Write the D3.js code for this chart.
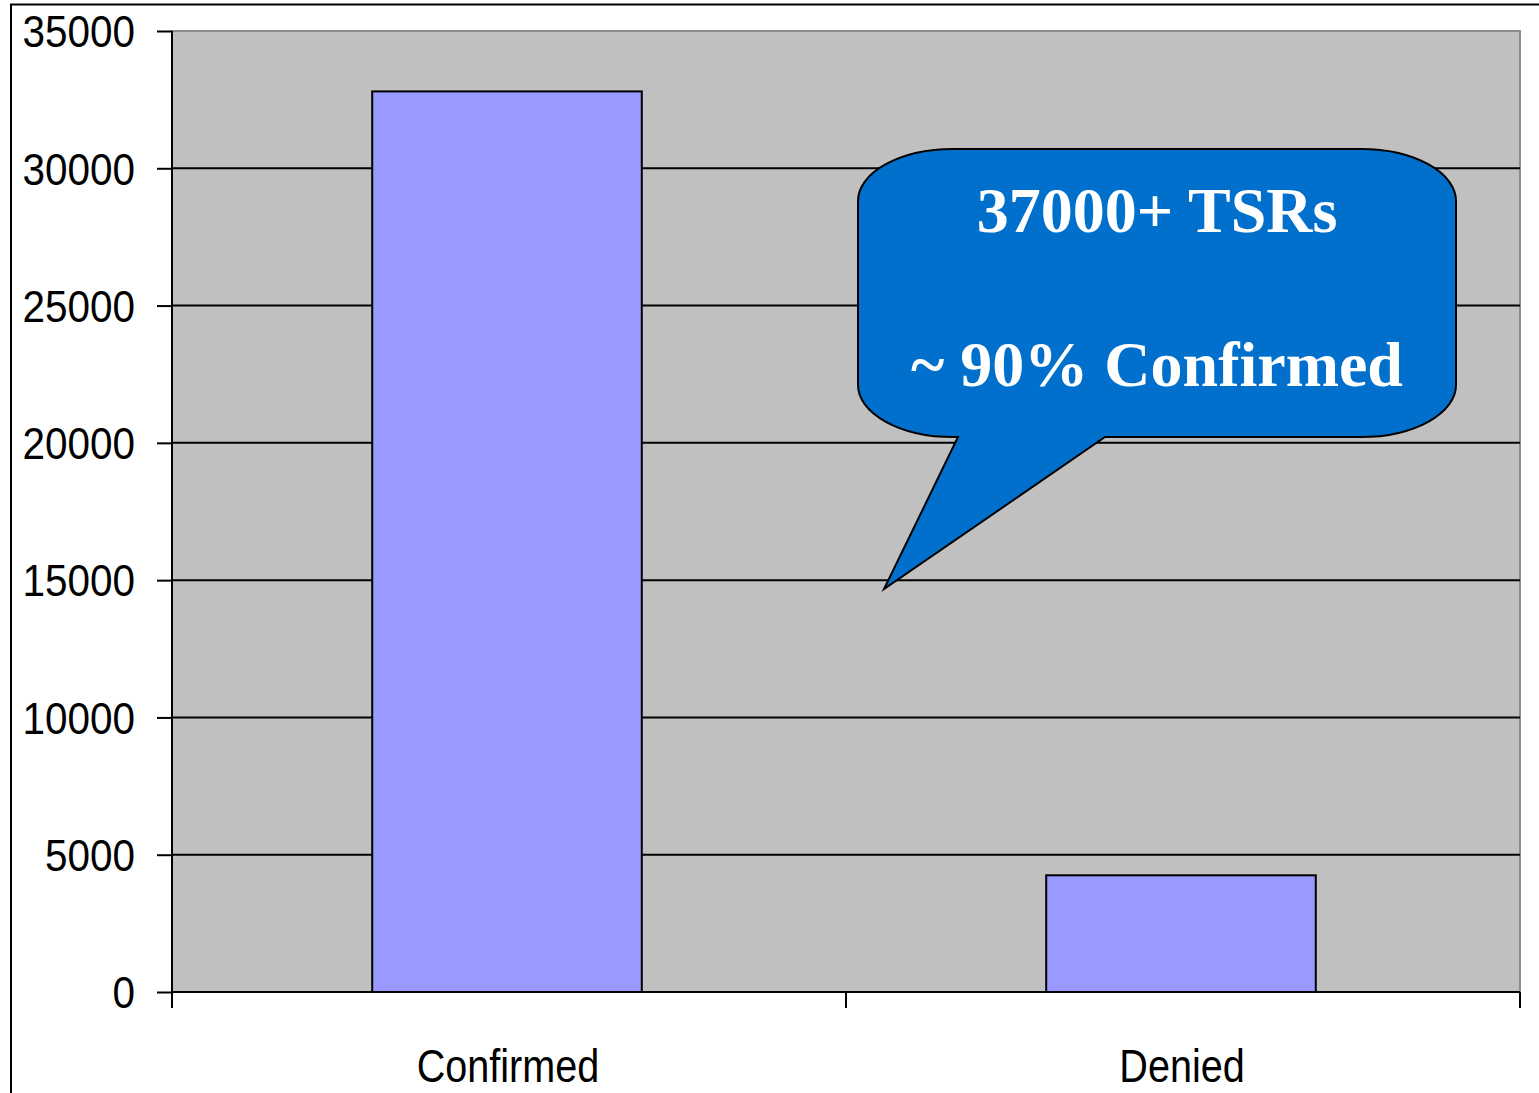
<!DOCTYPE html>
<html>
<head>
<meta charset="utf-8">
<script src="https://cdn.jsdelivr.net/npm/d3@7"></script>
<style>
  body { margin: 0; background: #fff; }
  svg { display: block; }
</style>
</head>
<body>
<div id="chart"></div>
<script>
// Data
const categories = ["Confirmed", "Denied"];
const counts = [32800, 4250];
const yTicks = [0, 5000, 10000, 15000, 20000, 25000, 30000, 35000];
const calloutLines = ["37000+ TSRs", "~ 90% Confirmed"];

// Sizes
const width = 1539;
const height = 1093;
const plot = { left: 172, right: 1520, top: 31, bottom: 992 };

const svg = d3
  .select("#chart")
  .append("svg")
  .attr("width", width)
  .attr("height", height);

// Squeeze text horizontally, the picture's labels are a bit condensed
const squeeze = (sel, factor) => {
  sel.each(function () {
    const len = this.getComputedTextLength();
    d3.select(this)
      .attr("textLength", len * factor)
      .attr("lengthAdjust", "spacingAndGlyphs");
  });
};

// Outer frame (right and bottom are cut off in the picture)
svg
  .append("path")
  .attr("d", `M11,${height} L11,4.5 L${width},4.5`)
  .attr("fill", "none")
  .attr("stroke", "#000")
  .attr("stroke-width", 2);

// Scales
const xScale = d3
  .scaleBand()
  .domain(categories)
  .range([plot.left, plot.right])
  .paddingInner(0.6)
  .paddingOuter(0.3);

const xCat = d3
  .scaleBand()
  .domain(categories)
  .range([plot.left, plot.right]);

const yScale = d3
  .scaleLinear()
  .domain([0, 35000])
  .range([plot.bottom, plot.top]);

// Plot background
svg
  .append("rect")
  .attr("x", plot.left)
  .attr("y", plot.top)
  .attr("width", plot.right - plot.left)
  .attr("height", plot.bottom - plot.top)
  .attr("fill", "#c0c0c0")
  .attr("stroke", "#8c8c8c")
  .attr("stroke-width", 2);

// Grid lines
svg
  .append("g")
  .selectAll("line")
  .data(yTicks.filter((d) => d > 0 && d < 35000))
  .enter()
  .append("line")
  .attr("x1", plot.left)
  .attr("x2", plot.right)
  .attr("y1", (d) => yScale(d))
  .attr("y2", (d) => yScale(d))
  .attr("stroke", "#000")
  .attr("stroke-width", 2);

// Bars
svg
  .append("g")
  .selectAll("rect")
  .data(categories)
  .enter()
  .append("rect")
  .attr("x", (d) => xScale(d) - 2)
  .attr("y", (d, i) => yScale(counts[i]))
  .attr("width", xScale.bandwidth())
  .attr("height", (d, i) => yScale(0) - yScale(counts[i]))
  .attr("fill", "#9999ff")
  .attr("stroke", "#000")
  .attr("stroke-width", 2);

// Y axis
const yAxis = d3
  .axisLeft(yScale)
  .tickValues(yTicks)
  .tickSize(15)
  .tickPadding(22)
  .tickFormat(d3.format("d"));

const yAxisG = svg
  .append("g")
  .attr("transform", `translate(${plot.left}, 0)`)
  .call(yAxis);
yAxisG
  .select(".domain")
  .attr("stroke-width", 2)
  .attr("d", `M-0,${plot.top}V${plot.bottom + 16}`);
yAxisG.selectAll(".tick line").attr("stroke-width", 2);
yAxisG
  .selectAll("text")
  .attr("font-family", "Liberation Sans, Arial, sans-serif")
  .attr("font-size", 44)
  .attr("fill", "#000")
  .attr("dy", "0.36em")
  .call(squeeze, 0.92);

// X axis: category separators as ticks, labels centered
svg
  .append("line")
  .attr("x1", plot.left)
  .attr("x2", plot.right)
  .attr("y1", plot.bottom)
  .attr("y2", plot.bottom)
  .attr("stroke", "#000")
  .attr("stroke-width", 2);

const sepTicks = categories.map((c) => xCat(c)).concat([plot.right]);
svg
  .append("g")
  .selectAll("line")
  .data(sepTicks)
  .enter()
  .append("line")
  .attr("x1", (d) => d)
  .attr("x2", (d) => d)
  .attr("y1", plot.bottom)
  .attr("y2", plot.bottom + 16)
  .attr("stroke", "#000")
  .attr("stroke-width", 2);

svg
  .append("g")
  .selectAll("text")
  .data(categories)
  .enter()
  .append("text")
  .attr("x", (d) => xCat(d) + xCat.bandwidth() / 2 - 1)
  .attr("y", 1082)
  .attr("text-anchor", "middle")
  .attr("font-family", "Liberation Sans, Arial, sans-serif")
  .attr("font-size", 46)
  .attr("fill", "#000")
  .text((d) => d)
  .call(squeeze, 0.86);

// Callout
const box = { x0: 858, x1: 1456, y0: 149, y1: 437, rx: 95, ry: 52 };
const tip = { x: 884, y: yScale(15000) + 9 };
const baseL = 958;
const baseR = 1105;

const calloutPath = [
  `M${box.x0 + box.rx},${box.y0}`,
  `L${box.x1 - box.rx},${box.y0}`,
  `A${box.rx},${box.ry} 0 0 1 ${box.x1},${box.y0 + box.ry}`,
  `L${box.x1},${box.y1 - box.ry}`,
  `A${box.rx},${box.ry} 0 0 1 ${box.x1 - box.rx},${box.y1}`,
  `L${baseR},${box.y1}`,
  `L${tip.x},${tip.y}`,
  `L${baseL},${box.y1}`,
  `L${box.x0 + box.rx},${box.y1}`,
  `A${box.rx},${box.ry} 0 0 1 ${box.x0},${box.y1 - box.ry}`,
  `L${box.x0},${box.y0 + box.ry}`,
  `A${box.rx},${box.ry} 0 0 1 ${box.x0 + box.rx},${box.y0}`,
  "Z",
].join(" ");

svg
  .append("path")
  .attr("d", calloutPath)
  .attr("fill", "#0070cc")
  .attr("stroke", "#000")
  .attr("stroke-width", 2);

svg
  .append("g")
  .selectAll("text")
  .data(calloutLines)
  .enter()
  .append("text")
  .attr("x", 1157)
  .attr("y", (d, i) => 232 + i * 154)
  .attr("text-anchor", "middle")
  .attr("font-family", "Liberation Serif, Times New Roman, serif")
  .attr("font-weight", "bold")
  .attr("font-size", 64)
  .attr("fill", "#fff")
  .text((d) => d);
</script>
</body>
</html>
